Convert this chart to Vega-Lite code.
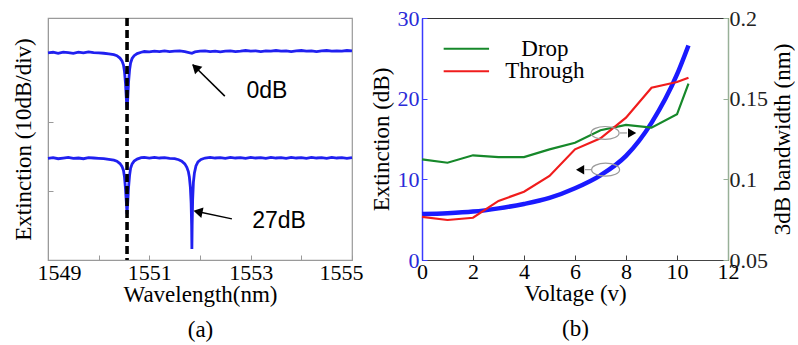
{
  "$schema": "https://vega.github.io/schema/vega-lite/v6.json",
  "background": "white",
  "padding": {"left": 11, "top": 6, "right": 0, "bottom": 0},
  "autosize": {"type": "pad"},
  "config": {
    "view": {"stroke": null},
    "axis": {
      "labelFont": "Liberation Serif", "titleFont": "Liberation Serif",
      "labelFontSize": 22, "titleFontSize": 23, "titleFontWeight": "normal",
      "labelColor": "black", "titleColor": "black", "grid": false,
      "tickSize": -5, "labelFlush": false, "labelOverlap": false
    }
  },
  "datasets": {
    "spectra": [
      {"trace": "0dB", "wl": 1549.0, "db": -10.1}, {"trace": "0dB", "wl": 1549.1, "db": -9.9}, {"trace": "0dB", "wl": 1549.2, "db": -10.2}, {"trace": "0dB", "wl": 1549.3, "db": -9.9}, {"trace": "0dB", "wl": 1549.4, "db": -10.0}, {"trace": "0dB", "wl": 1549.5, "db": -10.2}, {"trace": "0dB", "wl": 1549.6, "db": -9.9}, {"trace": "0dB", "wl": 1549.7, "db": -10.1}, {"trace": "0dB", "wl": 1549.8, "db": -9.8}, {"trace": "0dB", "wl": 1549.9, "db": -10.0}, {"trace": "0dB", "wl": 1550.0, "db": -10.1}, {"trace": "0dB", "wl": 1550.1, "db": -10.2}, {"trace": "0dB", "wl": 1550.2, "db": -10.4},
      {"trace": "0dB", "wl": 1550.3, "db": -10.6}, {"trace": "0dB", "wl": 1550.36, "db": -10.9}, {"trace": "0dB", "wl": 1550.42, "db": -11.6}, {"trace": "0dB", "wl": 1550.46, "db": -12.4}, {"trace": "0dB", "wl": 1550.49, "db": -13.6}, {"trace": "0dB", "wl": 1550.51, "db": -15.5}, {"trace": "0dB", "wl": 1550.53, "db": -19.0}, {"trace": "0dB", "wl": 1550.545, "db": -23.0}, {"trace": "0dB", "wl": 1550.56, "db": -26.5}, {"trace": "0dB", "wl": 1550.575, "db": -23.0}, {"trace": "0dB", "wl": 1550.59, "db": -18.5}, {"trace": "0dB", "wl": 1550.61, "db": -15.0}, {"trace": "0dB", "wl": 1550.63, "db": -13.0}, {"trace": "0dB", "wl": 1550.66, "db": -11.7}, {"trace": "0dB", "wl": 1550.7, "db": -10.9}, {"trace": "0dB", "wl": 1550.76, "db": -10.3}, {"trace": "0dB", "wl": 1550.84, "db": -9.9},
      {"trace": "0dB", "wl": 1550.9, "db": -9.7}, {"trace": "0dB", "wl": 1551.0, "db": -9.8}, {"trace": "0dB", "wl": 1551.1, "db": -9.6}, {"trace": "0dB", "wl": 1551.2, "db": -9.7}, {"trace": "0dB", "wl": 1551.3, "db": -9.5}, {"trace": "0dB", "wl": 1551.4, "db": -9.7}, {"trace": "0dB", "wl": 1551.5, "db": -9.6}, {"trace": "0dB", "wl": 1551.6, "db": -9.5}, {"trace": "0dB", "wl": 1551.7, "db": -9.7}, {"trace": "0dB", "wl": 1551.84, "db": -10.2}, {"trace": "0dB", "wl": 1551.9, "db": -9.8}, {"trace": "0dB", "wl": 1552.0, "db": -9.6}, {"trace": "0dB", "wl": 1552.1, "db": -9.5}, {"trace": "0dB", "wl": 1552.2, "db": -9.7}, {"trace": "0dB", "wl": 1552.3, "db": -9.6}, {"trace": "0dB", "wl": 1552.4, "db": -9.8}, {"trace": "0dB", "wl": 1552.5, "db": -9.6}, {"trace": "0dB", "wl": 1552.6, "db": -9.5}, {"trace": "0dB", "wl": 1552.7, "db": -9.7}, {"trace": "0dB", "wl": 1552.8, "db": -9.6}, {"trace": "0dB", "wl": 1552.9, "db": -9.4}, {"trace": "0dB", "wl": 1553.0, "db": -9.6}, {"trace": "0dB", "wl": 1553.1, "db": -9.5}, {"trace": "0dB", "wl": 1553.2, "db": -9.7}, {"trace": "0dB", "wl": 1553.3, "db": -9.5}, {"trace": "0dB", "wl": 1553.4, "db": -9.6}, {"trace": "0dB", "wl": 1553.5, "db": -9.4}, {"trace": "0dB", "wl": 1553.6, "db": -9.6}, {"trace": "0dB", "wl": 1553.7, "db": -9.5}, {"trace": "0dB", "wl": 1553.8, "db": -9.7}, {"trace": "0dB", "wl": 1553.9, "db": -9.5}, {"trace": "0dB", "wl": 1554.0, "db": -9.4}, {"trace": "0dB", "wl": 1554.1, "db": -9.6}, {"trace": "0dB", "wl": 1554.2, "db": -9.5}, {"trace": "0dB", "wl": 1554.3, "db": -9.7}, {"trace": "0dB", "wl": 1554.4, "db": -9.5}, {"trace": "0dB", "wl": 1554.5, "db": -9.4}, {"trace": "0dB", "wl": 1554.6, "db": -9.6}, {"trace": "0dB", "wl": 1554.7, "db": -9.5}, {"trace": "0dB", "wl": 1554.8, "db": -9.6}, {"trace": "0dB", "wl": 1554.9, "db": -9.4}, {"trace": "0dB", "wl": 1555.0, "db": -9.5},
      {"trace": "27dB", "wl": 1549.0, "db": -40.6}, {"trace": "27dB", "wl": 1549.1, "db": -40.4}, {"trace": "27dB", "wl": 1549.2, "db": -40.7}, {"trace": "27dB", "wl": 1549.3, "db": -40.5}, {"trace": "27dB", "wl": 1549.4, "db": -40.3}, {"trace": "27dB", "wl": 1549.5, "db": -40.6}, {"trace": "27dB", "wl": 1549.6, "db": -40.5}, {"trace": "27dB", "wl": 1549.7, "db": -40.7}, {"trace": "27dB", "wl": 1549.8, "db": -40.4}, {"trace": "27dB", "wl": 1549.9, "db": -40.5}, {"trace": "27dB", "wl": 1550.0, "db": -40.6}, {"trace": "27dB", "wl": 1550.1, "db": -40.7}, {"trace": "27dB", "wl": 1550.2, "db": -40.9},
      {"trace": "27dB", "wl": 1550.3, "db": -41.1}, {"trace": "27dB", "wl": 1550.36, "db": -41.4}, {"trace": "27dB", "wl": 1550.42, "db": -42.1}, {"trace": "27dB", "wl": 1550.46, "db": -42.9}, {"trace": "27dB", "wl": 1550.49, "db": -44.1}, {"trace": "27dB", "wl": 1550.51, "db": -46.0}, {"trace": "27dB", "wl": 1550.53, "db": -49.5}, {"trace": "27dB", "wl": 1550.545, "db": -53.0}, {"trace": "27dB", "wl": 1550.56, "db": -56.7}, {"trace": "27dB", "wl": 1550.575, "db": -53.0}, {"trace": "27dB", "wl": 1550.59, "db": -49.0}, {"trace": "27dB", "wl": 1550.61, "db": -45.5}, {"trace": "27dB", "wl": 1550.63, "db": -43.5}, {"trace": "27dB", "wl": 1550.66, "db": -42.2}, {"trace": "27dB", "wl": 1550.7, "db": -41.4}, {"trace": "27dB", "wl": 1550.76, "db": -40.8}, {"trace": "27dB", "wl": 1550.84, "db": -40.4},
      {"trace": "27dB", "wl": 1550.9, "db": -40.3}, {"trace": "27dB", "wl": 1551.0, "db": -40.5}, {"trace": "27dB", "wl": 1551.1, "db": -40.3}, {"trace": "27dB", "wl": 1551.2, "db": -40.5}, {"trace": "27dB", "wl": 1551.3, "db": -40.4}, {"trace": "27dB", "wl": 1551.4, "db": -40.6}, {"trace": "27dB", "wl": 1551.5, "db": -40.7}, {"trace": "27dB", "wl": 1551.58, "db": -41.0}, {"trace": "27dB", "wl": 1551.64, "db": -41.4}, {"trace": "27dB", "wl": 1551.7, "db": -42.2}, {"trace": "27dB", "wl": 1551.74, "db": -43.2}, {"trace": "27dB", "wl": 1551.77, "db": -44.4}, {"trace": "27dB", "wl": 1551.79, "db": -46.0}, {"trace": "27dB", "wl": 1551.81, "db": -49.0}, {"trace": "27dB", "wl": 1551.825, "db": -53.5}, {"trace": "27dB", "wl": 1551.835, "db": -60.0}, {"trace": "27dB", "wl": 1551.84, "db": -66.8}, {"trace": "27dB", "wl": 1551.845, "db": -60.0}, {"trace": "27dB", "wl": 1551.855, "db": -52.5}, {"trace": "27dB", "wl": 1551.87, "db": -47.5}, {"trace": "27dB", "wl": 1551.89, "db": -44.8}, {"trace": "27dB", "wl": 1551.92, "db": -42.8}, {"trace": "27dB", "wl": 1551.96, "db": -41.6}, {"trace": "27dB", "wl": 1552.02, "db": -40.9},
      {"trace": "27dB", "wl": 1552.1, "db": -40.5}, {"trace": "27dB", "wl": 1552.2, "db": -40.3}, {"trace": "27dB", "wl": 1552.3, "db": -40.5}, {"trace": "27dB", "wl": 1552.4, "db": -40.4}, {"trace": "27dB", "wl": 1552.5, "db": -40.6}, {"trace": "27dB", "wl": 1552.6, "db": -40.3}, {"trace": "27dB", "wl": 1552.7, "db": -40.5}, {"trace": "27dB", "wl": 1552.8, "db": -40.4}, {"trace": "27dB", "wl": 1552.9, "db": -40.6}, {"trace": "27dB", "wl": 1553.0, "db": -40.3}, {"trace": "27dB", "wl": 1553.1, "db": -40.5}, {"trace": "27dB", "wl": 1553.2, "db": -40.4}, {"trace": "27dB", "wl": 1553.3, "db": -40.6}, {"trace": "27dB", "wl": 1553.4, "db": -40.3}, {"trace": "27dB", "wl": 1553.5, "db": -40.5}, {"trace": "27dB", "wl": 1553.6, "db": -40.4}, {"trace": "27dB", "wl": 1553.7, "db": -40.6}, {"trace": "27dB", "wl": 1553.8, "db": -40.3}, {"trace": "27dB", "wl": 1553.9, "db": -40.5}, {"trace": "27dB", "wl": 1554.0, "db": -40.4}, {"trace": "27dB", "wl": 1554.1, "db": -40.6}, {"trace": "27dB", "wl": 1554.2, "db": -40.3}, {"trace": "27dB", "wl": 1554.3, "db": -40.5}, {"trace": "27dB", "wl": 1554.4, "db": -40.4}, {"trace": "27dB", "wl": 1554.5, "db": -40.6}, {"trace": "27dB", "wl": 1554.6, "db": -40.3}, {"trace": "27dB", "wl": 1554.7, "db": -40.5}, {"trace": "27dB", "wl": 1554.8, "db": -40.4}, {"trace": "27dB", "wl": 1554.9, "db": -40.6}, {"trace": "27dB", "wl": 1555.0, "db": -40.4}
    ],
    "marker": [{"wl": 1550.56}],
    "arrowsA": [
      {"label": "0dB", "wl0": 1552.49, "db0": -22.6, "wl1": 1551.86, "db1": -13.5, "hwl": 1551.91, "hdb": -14.3, "twl": 1553.32, "tdb": -21.1},
      {"label": "27dB", "wl0": 1552.63, "db0": -58.1, "wl1": 1551.92, "db1": -55.9, "hwl": 1551.96, "hdb": -56.06, "twl": 1553.56, "tdb": -58.7}
    ],
    "extinction": [
      {"v": 0, "ext": 5.7}, {"v": 1, "ext": 5.8}, {"v": 2, "ext": 6.0}, {"v": 3, "ext": 6.4}, {"v": 4, "ext": 6.95}, {"v": 5, "ext": 7.7}, {"v": 6, "ext": 8.9}, {"v": 7, "ext": 10.5}, {"v": 8, "ext": 12.9}, {"v": 9, "ext": 17.0}, {"v": 10, "ext": 23.0}, {"v": 10.45, "ext": 26.6}
    ],
    "bandwidth": [
      {"series": "Drop", "v": 0, "bw": 0.1124}, {"series": "Drop", "v": 1, "bw": 0.1103}, {"series": "Drop", "v": 2, "bw": 0.1149}, {"series": "Drop", "v": 3, "bw": 0.1138}, {"series": "Drop", "v": 4, "bw": 0.1138}, {"series": "Drop", "v": 5, "bw": 0.1186}, {"series": "Drop", "v": 6, "bw": 0.1227}, {"series": "Drop", "v": 7, "bw": 0.1304}, {"series": "Drop", "v": 8, "bw": 0.1337}, {"series": "Drop", "v": 9, "bw": 0.132}, {"series": "Drop", "v": 10, "bw": 0.1403}, {"series": "Drop", "v": 10.45, "bw": 0.1593},
      {"series": "Through", "v": 0, "bw": 0.0767}, {"series": "Through", "v": 1, "bw": 0.0748}, {"series": "Through", "v": 2, "bw": 0.0762}, {"series": "Through", "v": 3, "bw": 0.0866}, {"series": "Through", "v": 4, "bw": 0.0923}, {"series": "Through", "v": 5, "bw": 0.1021}, {"series": "Through", "v": 6, "bw": 0.1186}, {"series": "Through", "v": 7, "bw": 0.1254}, {"series": "Through", "v": 8, "bw": 0.1382}, {"series": "Through", "v": 9, "bw": 0.1568}, {"series": "Through", "v": 10, "bw": 0.1603}, {"series": "Through", "v": 10.45, "bw": 0.163}
    ],
    "annotB": [
      {"dir": "right", "v": 7.18, "ext": 15.75, "av": 8.24, "v0": 7.76, "v1": 8.04},
      {"dir": "left", "v": 7.2, "ext": 11.2, "av": 6.2, "v0": 6.39, "v1": 6.67}
    ],
    "legendB": [
      {"series": "Drop", "v0": 0.85, "v1": 2.63, "lv": 4.82, "ext": 26.2},
      {"series": "Through", "v0": 0.85, "v1": 2.63, "lv": 4.82, "ext": 23.4}
    ]
  },
  "spacing": 70,
  "bounds": "flush",
  "hconcat": [
    {
      "width": 304,
      "height": 242,
      "view": {"stroke": "#9a9a9a", "strokeWidth": 1.2},
      "layer": [
        {
          "data": {"name": "spectra"},
          "mark": {"type": "line", "color": "#2020f0", "strokeWidth": 2.8},
          "encoding": {
            "x": {"field": "wl", "type": "quantitative", "scale": {"domain": [1549, 1555], "nice": false, "zero": false},
              "axis": {"orient": "bottom", "values": [1549, 1550, 1551, 1552, 1553, 1554, 1555], "labelExpr": "datum.value % 2 == 1 ? datum.label : ''", "format": "d",
                "domainColor": "#9a9a9a", "tickColor": "#9a9a9a", "labelPadding": 7, "labelFlush": true, "labelFlushOffset": 11,
                "title": ["Wavelength(nm)", "(a)"], "titleLineHeight": 35, "titlePadding": 0}},
            "y": {"field": "db", "type": "quantitative", "scale": {"domain": [-70, 0], "nice": false},
              "axis": {"orient": "left", "values": [-70, -60, -50, -40, -30, -20, -10, 0], "labels": false,
                "domainColor": "#9a9a9a", "tickColor": "#9a9a9a", "title": "Extinction (10dB/div)", "titlePadding": 12}},
            "detail": {"field": "trace"}
          }
        },
        {
          "data": {"name": "marker"},
          "mark": {"type": "rule", "color": "black", "strokeWidth": 3.6, "strokeDash": [8, 4]},
          "encoding": {"x": {"field": "wl", "type": "quantitative"}}
        },
        {
          "data": {"name": "arrowsA"},
          "mark": {"type": "rule", "color": "black", "strokeWidth": 1.5},
          "encoding": {
            "x": {"field": "wl0", "type": "quantitative"},
            "y": {"field": "db0", "type": "quantitative"},
            "x2": {"field": "wl1"},
            "y2": {"field": "db1"}
          }
        },
        {
          "data": {"name": "arrowsA"},
          "transform": [{"filter": "datum.label == '0dB'"}],
          "mark": {"type": "point", "shape": "triangle-up", "filled": true, "color": "black", "opacity": 1, "size": 110, "angle": 314},
          "encoding": {
            "x": {"field": "hwl", "type": "quantitative"},
            "y": {"field": "hdb", "type": "quantitative"}
          }
        },
        {
          "data": {"name": "arrowsA"},
          "transform": [{"filter": "datum.label == '27dB'"}],
          "mark": {"type": "point", "shape": "triangle-up", "filled": true, "color": "black", "opacity": 1, "size": 110, "angle": 282},
          "encoding": {
            "x": {"field": "hwl", "type": "quantitative"},
            "y": {"field": "hdb", "type": "quantitative"}
          }
        },
        {
          "data": {"name": "arrowsA"},
          "mark": {"type": "text", "font": "Liberation Sans", "fontSize": 23, "color": "black", "align": "center", "baseline": "middle"},
          "encoding": {
            "x": {"field": "twl", "type": "quantitative"},
            "y": {"field": "tdb", "type": "quantitative"},
            "text": {"field": "label"}
          }
        }
      ]
    },
    {
      "width": 306,
      "height": 242,
      "view": {"stroke": "#333333", "strokeWidth": 1},
      "layer": [
        {
          "data": {"name": "extinction"},
          "mark": {"type": "line", "color": "#1a1aff", "strokeWidth": 4.5, "interpolate": "monotone"},
          "encoding": {
            "x": {"field": "v", "type": "quantitative", "scale": {"domain": [0, 12], "nice": false},
              "axis": {"orient": "bottom", "values": [0, 2, 4, 6, 8, 10, 12], "domainColor": "#444444", "tickColor": "#444444", "labelPadding": 6,
                "title": ["Voltage (v)", "(b)"], "titleLineHeight": 35, "titlePadding": 0}},
            "y": {"field": "ext", "type": "quantitative", "scale": {"domain": [0, 30], "nice": false},
              "axis": {"orient": "left", "values": [0, 10, 20, 30], "domainColor": "#3a3aff", "domainWidth": 1.5, "tickColor": "#3a3aff", "labelColor": "#2a2ad8", "labelPadding": 8,
                "title": "Extinction (dB)", "titlePadding": 4}}
          }
        },
        {
          "data": {"name": "bandwidth"},
          "mark": {"type": "line", "strokeWidth": 2.2},
          "encoding": {
            "x": {"field": "v", "type": "quantitative"},
            "y": {"field": "bw", "type": "quantitative", "scale": {"domain": [0.05, 0.2], "nice": false, "zero": false},
              "axis": {"orient": "right", "values": [0.05, 0.1, 0.15, 0.2], "format": "~g", "domainColor": "#98b098", "domainWidth": 1.5, "tickColor": "#98b098", "labelColor": "#222222", "labelPadding": 6,
                "title": "3dB bandwidth (nm)", "titleAngle": 270, "titleBaseline": "top", "titlePadding": 4}},
            "color": {"field": "series", "type": "nominal", "scale": {"domain": ["Drop", "Through"], "range": ["#16882a", "#f01c1c"]}, "legend": null}
          }
        },
        {
          "data": {"name": "annotB"},
          "mark": {"type": "point", "shape": "M-1,0A1,0.46,0,1,0,1,0A1,0.46,0,1,0,-1,0Z", "filled": false, "color": "#9a9a9a", "strokeWidth": 1.2, "opacity": 1, "size": 784},
          "encoding": {
            "x": {"field": "v", "type": "quantitative"},
            "y": {"field": "ext", "type": "quantitative", "scale": {"domain": [0, 30], "nice": false}, "axis": null}
          }
        },
        {
          "data": {"name": "annotB"},
          "mark": {"type": "rule", "color": "#9a9a9a", "strokeWidth": 1.2},
          "encoding": {
            "x": {"field": "v0", "type": "quantitative"},
            "x2": {"field": "v1"},
            "y": {"field": "ext", "type": "quantitative", "scale": {"domain": [0, 30], "nice": false}, "axis": null}
          }
        },
        {
          "data": {"name": "annotB"},
          "mark": {"type": "point", "filled": true, "color": "black", "opacity": 1, "size": 90},
          "encoding": {
            "x": {"field": "av", "type": "quantitative"},
            "y": {"field": "ext", "type": "quantitative", "scale": {"domain": [0, 30], "nice": false}, "axis": null},
            "shape": {"field": "dir", "type": "nominal", "scale": {"domain": ["right", "left"], "range": ["triangle-right", "triangle-left"]}, "legend": null}
          }
        },
        {
          "data": {"name": "legendB"},
          "mark": {"type": "rule", "strokeWidth": 2},
          "encoding": {
            "x": {"field": "v0", "type": "quantitative"},
            "x2": {"field": "v1"},
            "y": {"field": "ext", "type": "quantitative", "scale": {"domain": [0, 30], "nice": false}, "axis": null},
            "color": {"field": "series", "type": "nominal", "scale": {"domain": ["Drop", "Through"], "range": ["#16882a", "#f01c1c"]}, "legend": null}
          }
        },
        {
          "data": {"name": "legendB"},
          "mark": {"type": "text", "font": "Liberation Serif", "fontSize": 23, "color": "black", "align": "center", "baseline": "middle"},
          "encoding": {
            "x": {"field": "lv", "type": "quantitative"},
            "y": {"field": "ext", "type": "quantitative", "scale": {"domain": [0, 30], "nice": false}, "axis": null},
            "text": {"field": "series"}
          }
        }
      ],
      "resolve": {"scale": {"y": "independent"}}
    }
  ]
}
